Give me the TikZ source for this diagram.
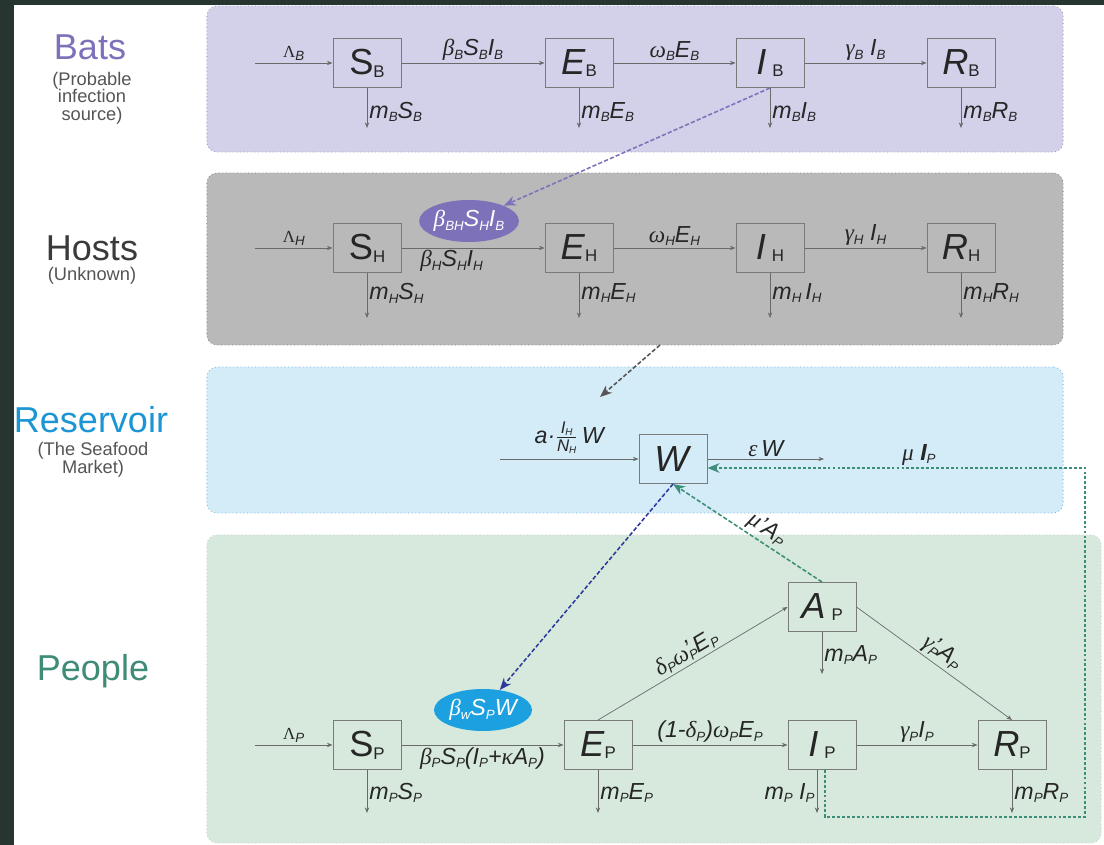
\documentclass[tikz,border=0pt]{standalone}
\usepackage{fontspec}
\setmainfont{Liberation Sans}
\newfontfamily\grkfont{Liberation Serif}
\usetikzlibrary{arrows.meta,positioning,calc,shapes.geometric}
\definecolor{darkbg}{HTML}{263530}
\definecolor{batfill}{HTML}{D3D0E9}
\definecolor{batline}{HTML}{9D96C9}
\definecolor{batink}{HTML}{7D71B9}
\definecolor{hostfill}{HTML}{B9B9B9}
\definecolor{hostline}{HTML}{8A8A8A}
\definecolor{hostink}{HTML}{3A3A3A}
\definecolor{resfill}{HTML}{D4EBF8}
\definecolor{resline}{HTML}{6FB6DF}
\definecolor{resink}{HTML}{1B95D3}
\definecolor{pplfill}{HTML}{D6E9DC}
\definecolor{pplink}{HTML}{3E8B77}
\definecolor{boxline}{HTML}{7A7A7A}
\definecolor{flowline}{HTML}{6A6A6A}
\definecolor{subink}{HTML}{555555}
\definecolor{labink}{HTML}{262626}
\definecolor{bwfill}{HTML}{1DA0E0}
\definecolor{bwline}{HTML}{2E3A9B}
\definecolor{resarr}{HTML}{3C8E78}
\definecolor{hostarr}{HTML}{555555}
\newcommand{\gk}[1]{{\grkfont\itshape #1}}
\newcommand{\fs}[1]{\raisebox{-2.5pt}{\fontsize{9.5}{10}\selectfont #1}}
\newcommand{\pfs}[1]{\rlap{\raisebox{1pt}{’}}\fs{#1}}
\newcommand{\fss}[1]{\raisebox{-1.5pt}{\fontsize{7}{8}\selectfont #1}}
\newcommand{\bs}[1]{\raisebox{-2pt}{\fontsize{12}{12}\selectfont\upshape #1}}
\tikzset{
  panel/.style={rounded corners=0.25cm,dotted,line width=0.6pt,inner sep=0pt},
  cbox/.style={draw=boxline,line width=0.7pt,minimum width=1.7cm,minimum height=1.225cm,inner sep=0pt,font=\fontsize{25.8}{28}\selectfont,text=labink},
  farr/.style={-{Stealth[length=1.4mm,width=1.1mm]},line width=0.5pt,draw=flowline},
  flab/.style={font=\fontsize{16.5}{18}\selectfont\itshape,text=labink,inner sep=1.5pt},
  lamlab/.style={font=\fontsize{12}{14}\selectfont\itshape,text=labink,inner sep=1.5pt},
  ttl/.style={font=\fontsize{25.6}{28}\selectfont},
  subttl/.style={font=\fontsize{13}{12.6}\selectfont,text=subink,align=center},
  dlink/.style={dash pattern=on 3pt off 1.5pt,line width=1.1pt,-{Stealth[length=3mm,width=2.4mm]}},
  rate/.style={ellipse,inner sep=0pt,minimum width=2.45cm,minimum height=1.05cm,text=white,font=\fontsize{16.5}{18}\selectfont\itshape}
}
\begin{document}
\begin{tikzpicture}[x=0.025cm,y=-0.025cm]
  \useasboundingbox (0,0) rectangle (1104,845);
  \fill[darkbg] (0,0) rectangle (1104,845);
  \fill[white] (14,5) rectangle (1104,845);
  % panels
  \node[panel,draw=batline,fill=batfill,minimum width=21.4cm,minimum height=3.65cm] (bats) at (635,79) {};
  \node[panel,draw=hostline,fill=hostfill,minimum width=21.4cm,minimum height=4.3cm] (hosts) at (635,259) {};
  \node[panel,draw=resline,fill=resfill,minimum width=21.4cm,minimum height=3.65cm] (res) at (635,440) {};
  \node[panel,draw=pplfill!90!black,fill=pplfill,minimum width=22.35cm,minimum height=7.7cm] (ppl) at (654,689) {};
  % titles
  \node[ttl,text=batink] (batsT) at (90,47) {Bats};
  \node[subttl] (batsS) at (92,98) {(Probable\\infection\\source)};
  \node[ttl,text=hostink] (hostsT) at (92,248) {Hosts};
  \node[subttl] (hostsS) at (92,276) {(Unknown)};
  \node[ttl,text=resink] (resT) at (91,420) {Reservoir};
  \node[subttl] (resS) at (93,460) {(The Seafood\\Market)};
  \node[ttl,text=pplink] (pplT) at (93,671) {People};

  % bats
  \node[cbox] (SB) at (367,63) {S\bs{B}};
  \node[cbox] (EB) at (579,63) {\textit{E}\bs{B}};
  \node[cbox] (IB) at (770,63) {\textit{I}\,\bs{B}};
  \node[cbox] (RB) at (961,63) {\textit{R}\bs{B}};
  \coordinate (lamB) at (255,63);
  \draw[farr] (lamB) -- (SB) node[midway,above,lamlab] {{\grkfont\upshape Λ}\fs{B}};
  \draw[farr] (SB) -- (EB) node[midway,above,flab] {\gk{β}\fs{B}S\fs{B}I\fs{B}};
  \draw[farr] (EB) -- (IB) node[midway,above,flab] {\gk{ω}\fs{B}E\fs{B}};
  \draw[farr] (IB) -- (RB) node[midway,above,flab] {\gk{γ}\fs{B} I\fs{B}};
  \foreach \n/\t in {SB/S,EB/E,IB/I,RB/R}{
    \coordinate (\n d) at ($(\n.south)+(0,40)$);
    \draw[farr] (\n.south) -- (\n d) node[pos=0.6,right,flab] {m\fs{B}\t\fs{B}};
  }

  % hosts
  \node[cbox] (SH) at (367,248) {S\bs{H}};
  \node[cbox] (EH) at (579,248) {\textit{E}\bs{H}};
  \node[cbox] (IH) at (770,248) {\textit{I}\,\bs{H}};
  \node[cbox] (RH) at (961,248) {\textit{R}\bs{H}};
  \node[rate,fill=batink] (bbh) at (469,221) {\gk{β}\fs{BH}S\fs{H}I\fs{B}};
  \coordinate (lamH) at (255,248);
  \draw[farr] (lamH) -- (SH) node[midway,above,lamlab] {{\grkfont\upshape Λ}\fs{H}};
  \draw[farr] (SH) -- (EH) node[pos=0.35,below,flab] {\gk{β}\fs{H}S\fs{H}I\fs{H}};
  \draw[farr] (EH) -- (IH) node[midway,above,flab] {\gk{ω}\fs{H}E\fs{H}};
  \draw[farr] (IH) -- (RH) node[midway,above,flab] {\gk{γ}\fs{H} I\fs{H}};
  \foreach \n/\t in {SH/S,EH/E,IH/{\,I},RH/R}{
    \coordinate (\n d) at ($(\n.south)+(0,45)$);
    \draw[farr] (\n.south) -- (\n d) node[pos=0.45,right,flab] {m\fs{H}\t\fs{H}};
  }
  \draw[dlink,draw=batink] (IB.south) -- (bbh);

  % reservoir
  \node[cbox] (W) at (673,459) {\textit{W}};
  \coordinate (winn) at (500,459);
  \coordinate (wout) at (824,459);
  \draw[farr] (winn) -- (W) node[midway,above=2pt,flab]
    {a\textperiodcentered$\frac{\hbox{\fontsize{12}{12}\selectfont\itshape I\fss{H}}}{\hbox{\fontsize{12}{12}\selectfont\itshape N\fss{H}}}$\,W};
  \draw[farr] (W) -- (wout) node[midway,above,flab] {\gk{ε}\,W};
  \coordinate (hdrop) at (660,345);
  \coordinate (wdrop) at (600,397);
  \draw[dlink,draw=hostarr] (hdrop) -- (wdrop);

  % people
  \node[cbox] (SP) at (367,745) {S\bs{P}};
  \node[cbox] (EP) at (598,745) {\textit{E}\bs{P}};
  \node[cbox] (IP) at (822,745) {\textit{I}\,\bs{P}};
  \node[cbox] (RP) at (1012,745) {\textit{R}\bs{P}};
  \node[cbox] (AP) at (822,607) {\textit{A}\,\bs{P}};
  \node[rate,fill=bwfill] (bw) at (483,710) {\gk{β}\fs{w}S\fs{P}W};
  \coordinate (lamP) at (255,745);
  \draw[farr] (lamP) -- (SP) node[midway,above,lamlab] {{\grkfont\upshape Λ}\fs{P}};
  \draw[farr] (SP) -- (EP) node[midway,below,flab] {\gk{β}\fs{P}S\fs{P}(I\fs{P}+\gk{κ}A\fs{P})};
  \draw[farr] (EP) -- (IP) node[midway,above,flab] {(1-\gk{δ}\fs{P})\gk{ω}\fs{P}E\fs{P}};
  \draw[farr] (IP) -- (RP) node[midway,above,flab] {\gk{γ}\fs{P}I\fs{P}};
  \draw[farr] (EP.north) -- (AP.west) node[midway,sloped,above,flab] {\gk{δ}\fs{P}\gk{ω}\pfs{P}E\fs{P}};
  \draw[farr] (AP.east) -- (RP.north) node[midway,sloped,above,flab] {\gk{γ}\pfs{P}A\fs{P}};
  \foreach \n/\t in {SP/S,EP/E,RP/R}{
    \coordinate (\n d) at ($(\n.south)+(0,43)$);
    \draw[farr] (\n.south) -- (\n d) node[pos=0.53,right,flab] {m\fs{P}\t\fs{P}};
  }
  \coordinate (APd) at ($(AP.south)+(0,42)$);
  \draw[farr] (AP.south) -- (APd) node[pos=0.55,right,flab] {m\fs{P}A\fs{P}};
  \coordinate (IPs) at ($(IP.south)+(-5,0)$);
  \coordinate (IPd) at ($(IPs)+(0,43)$);
  \draw[farr] (IPs) -- (IPd) node[pos=0.53,left,flab] {m\fs{P} I\fs{P}};
  % feedback to the reservoir
  \coordinate (ip0) at ($(IP.south)+(3,0)$);
  \coordinate (lp1) at (825,817);
  \coordinate (lp2) at (1085,817);
  \coordinate (lp3) at (1085,468);
  \draw[dlink,draw=resarr,dash pattern=on 2pt off 1.5pt] (ip0) -- (lp1) -- (lp2) -- (lp3) -- (W.east |- lp3)
    node[pos=0.44,above,flab] {\gk{μ} \textbf{I}\fs{P}};
  \draw[dlink,draw=resarr] (AP.north) -- (W.south) node[pos=0.42,sloped,above,flab] {\gk{μ}’A\fs{P}};
  \draw[dlink,draw=bwline] (W.south) -- (bw);
\end{tikzpicture}
\end{document}
